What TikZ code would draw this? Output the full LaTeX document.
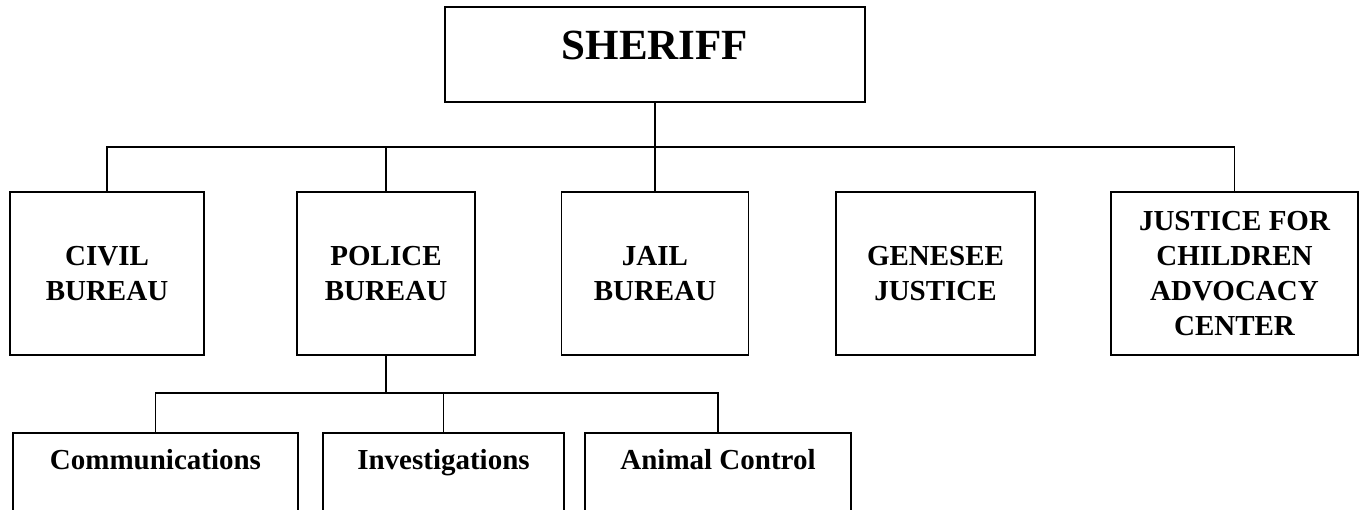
\documentclass[tikz,border=0pt]{standalone}
\usepackage{fontspec}
\setmainfont{Liberation Serif}
\begin{document}
\begin{tikzpicture}[x=1pt,y=-1pt,
  box/.style={draw=black, line width=1.8pt, fill=white, inner sep=0pt, align=center,
    font=\fontsize{29}{35}\selectfont\bfseries},
  conn/.style={draw=black, line width=1.2pt},
  trunk/.style={draw=black, line width=2.2pt},
  lbl/.style={inner sep=0pt, font=\fontsize{29}{35}\selectfont\bfseries}]
\useasboundingbox (0,0) rectangle (1361,510);
% top
\node[box, minimum width=420, minimum height=95] (sheriff) at (655,54.5) {};
\node[inner sep=0pt, font=\fontsize{43}{50}\selectfont\bfseries] (sherifft) at (655,45) {SHERIFF};
% second row
\node[box, minimum width=194, minimum height=163] (civil) at (107,273.5) {CIVIL\\BUREAU};
\node[box, minimum width=178, minimum height=163] (police) at (386,273.5) {POLICE\\BUREAU};
\node[box, minimum width=187, minimum height=163] (jail) at (655,273.5) {JAIL\\BUREAU};
\node[box, minimum width=199, minimum height=163] (genesee) at (935.5,273.5) {GENESEE\\JUSTICE};
\node[box, minimum width=247, minimum height=163] (justice) at (1234.5,273.5) {JUSTICE FOR\\CHILDREN\\ADVOCACY\\CENTER};
% third row
\node[box, anchor=north, minimum width=285, minimum height=150] (comm) at (155.5,432) {};
\node[box, anchor=north, minimum width=241, minimum height=150] (inv) at (443.5,432) {};
\node[box, anchor=north, minimum width=266, minimum height=150] (animal) at (718,432) {};
\node[lbl, anchor=base] (commt) at (155.5,470) {Communications};
\node[lbl, anchor=base] (invt) at (443.5,470) {Investigations};
\node[lbl, anchor=base] (animalt) at (718,470) {Animal Control};
% connectors top
\coordinate (bus) at (655,147);
\draw[trunk] (sheriff.south) -- (bus);
\draw[conn] (civil.north) -- (civil.north |- bus) -- (justice.north |- bus) -- (justice.north);
\draw[conn] (police.north) -- (police.north |- bus);
\draw[conn] (jail.north) -- (jail.north |- bus);
% connectors bottom
\coordinate (bus2) at (386,393);
\draw[conn, line width=1.8pt] (police.south) -- (bus2);
\draw[conn] (comm.north) -- (comm.north |- bus2) -- (animal.north |- bus2) -- (animal.north);
\draw[conn] (inv.north) -- (inv.north |- bus2);
\end{tikzpicture}
\end{document}
